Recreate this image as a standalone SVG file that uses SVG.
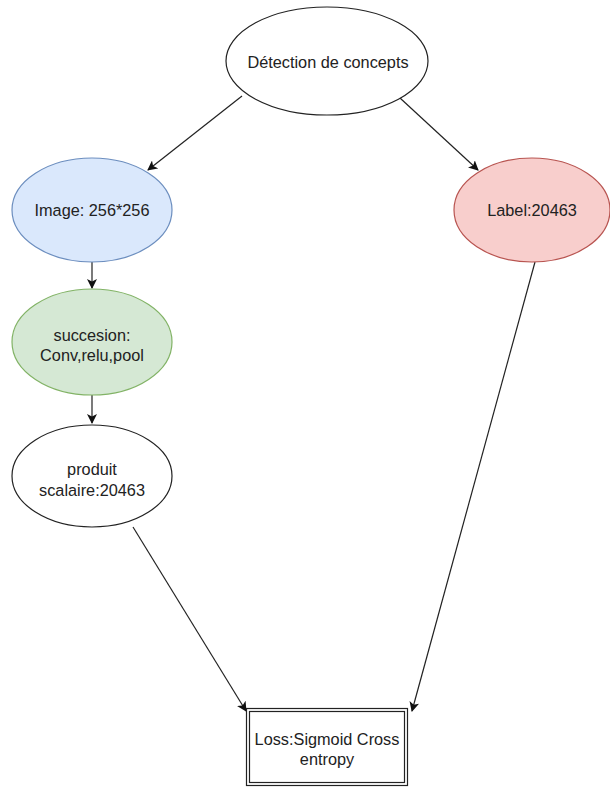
<svg xmlns="http://www.w3.org/2000/svg" width="610" height="787" viewBox="0 0 610 787">
<defs>
<marker id="arr" viewBox="0 0 10 10" refX="9" refY="5" markerWidth="10" markerHeight="10" markerUnits="userSpaceOnUse" orient="auto">
<path d="M0,0 L10,5 L0,10 L2.5,5 Z" fill="#111"/>
</marker>
</defs>
<style>
text{font-family:"Liberation Sans",Arial,sans-serif;font-size:16.3px;fill:#222;text-anchor:middle}
.e{stroke:#222;stroke-width:1.2}
.c{stroke:#222;stroke-width:1.2;fill:none;marker-end:url(#arr)}
</style>
<rect width="610" height="787" fill="#fff"/>
<g id="connectors">
<line class="c" x1="242" y1="96" x2="148" y2="170"/>
<line class="c" x1="400" y1="98" x2="478" y2="170"/>
<line class="c" x1="92" y1="262" x2="92" y2="288"/>
<line class="c" x1="92" y1="395" x2="92" y2="423"/>
<line class="c" x1="133" y1="527" x2="246" y2="711"/>
<line class="c" x1="535" y1="262" x2="412" y2="711"/>
</g>
<g id="detection">
<ellipse class="e" cx="327" cy="61" rx="101" ry="54" fill="#fff"/>
<text x="328" y="68">Détection de concepts</text>
</g>
<g id="image">
<ellipse cx="92" cy="210" rx="80" ry="52" fill="#dae8fc" stroke="#6c8ebf" stroke-width="1.2"/>
<text x="92" y="216">Image: 256*256</text>
</g>
<g id="label">
<ellipse cx="532" cy="210" rx="78" ry="52" fill="#f8cecc" stroke="#b85450" stroke-width="1.2"/>
<text x="532" y="216">Label:20463</text>
</g>
<g id="succesion">
<ellipse cx="92" cy="342" rx="80" ry="53" fill="#d5e8d4" stroke="#82b366" stroke-width="1.2"/>
<text x="92" y="341">succesion:</text>
<text x="92" y="361">Conv,relu,pool</text>
</g>
<g id="produit">
<ellipse class="e" cx="92" cy="476" rx="80" ry="51" fill="#fff"/>
<text x="92" y="475">produit</text>
<text x="92" y="496">scalaire:20463</text>
</g>
<g id="loss">
<rect x="246.5" y="708.5" width="161" height="77" fill="#fff" stroke="#222" stroke-width="1.2"/>
<rect x="249.5" y="711.5" width="155" height="71" fill="none" stroke="#222" stroke-width="1.2"/>
<text x="327" y="745">Loss:Sigmoid Cross</text>
<text x="327" y="765">entropy</text>
</g>
</svg>
